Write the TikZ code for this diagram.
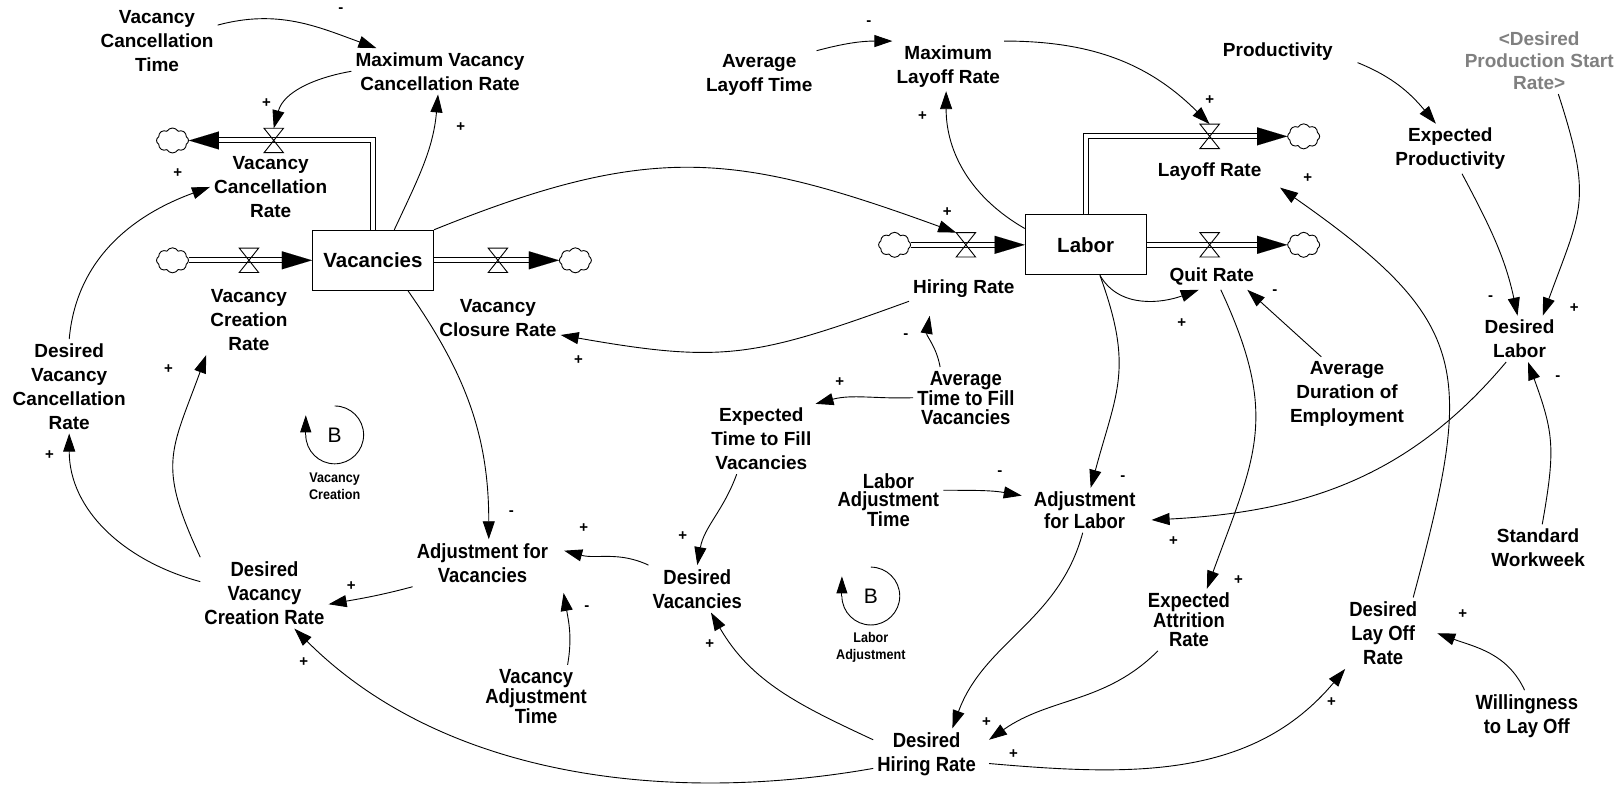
\documentclass[tikz,border=0pt]{standalone}
\usepackage{fontspec}
\setmainfont{Liberation Sans}
\newfontfamily\narrowfam{Liberation Sans}[FakeStretch=0.9]
\usetikzlibrary{arrows.meta,shapes.symbols,calc}
\newcommand\regf{\bfseries\fontsize{19}{24}\selectfont}
\newcommand\stockf{\bfseries\fontsize{20.5}{24}\selectfont}
\newcommand\grayf{\bfseries\fontsize{19}{22}\selectfont}
\newcommand\narf{\narrowfam\bfseries\fontsize{20.5}{24}\selectfont}
\newcommand\alf{\narrowfam\bfseries\fontsize{20.5}{21.5}\selectfont}
\newcommand\tightf{\narrowfam\bfseries\fontsize{20.5}{18.5}\selectfont}
\newcommand\polf{\bfseries\fontsize{15}{15}\selectfont}
\newcommand\loopf{\narrowfam\bfseries\fontsize{14}{17}\selectfont}
\newcommand\bfnt{\fontsize{21}{21}\selectfont}
\definecolor{gtext}{RGB}{128,128,128}
\begin{document}
\begin{tikzpicture}[x=1.033pt,y=1.033pt,
 lbl/.style={font=\regf,align=center,inner sep=4pt},
 glbl/.style={font=\grayf,align=center,inner sep=4pt,text=gtext},
 nlbl/.style={font=\narf,align=center,inner sep=4pt},
 albl/.style={font=\alf,align=center,inner sep=4pt},
 tlbl/.style={font=\tightf,align=center,inner sep=4pt},
 stock/.style={draw,line width=1pt,minimum width=121pt,minimum height=60pt,font=\stockf,inner sep=0},
 cloudn/.style={cloud,draw,line width=0.9pt,cloud puffs=8,cloud puff arc=120,aspect=1.3,minimum width=32pt,minimum height=25pt,inner sep=0},
 valve/.style={minimum width=19pt,minimum height=24pt,inner sep=0},
 valveline/.style={line width=0.9pt},
 pipe/.style={draw,line width=1pt,double,double distance=4pt},
 ftip/.style={draw,line width=0.01pt,-{Triangle[length=30pt,width=18pt]}},
 conn/.style={line width=0.9pt,-{Triangle[length=18pt,width=12pt]}},
 pol/.style={font=\polf,inner sep=0},
 bnode/.style={font=\bfnt,inner sep=0},
 looplbl/.style={font=\loopf,align=center,inner sep=2pt},
 loopar/.style={line width=0.9pt,-{Triangle[length=17pt,width=11pt]}},
]
\path[use as bounding box,fill=white] (0,0) rectangle (1566.3,-767.67);

% ---------- nodes ----------
\node[lbl] (vct) at (152,-40) {Vacancy\\Cancellation\\Time};
\node[lbl] (mvcr) at (426,-69) {Maximum Vacancy\\Cancellation Rate};
\node[cloudn] (cl1) at (167,-136) {};
\node[valve] (v1) at (265,-136) {};
\node[lbl] (vcar) at (262,-181) {Vacancy\\Cancellation\\Rate};
\node[stock] (vac) at (361,-252) {Vacancies};
\node[cloudn] (cl2) at (167,-252) {};
\node[valve] (v2) at (241,-252) {};
\node[lbl] (vcrr) at (241,-310) {Vacancy\\Creation\\Rate};
\node[valve] (v3) at (482,-252) {};
\node[cloudn] (cl3) at (557,-252) {};
\node[lbl] (vclr) at (482,-308) {Vacancy\\Closure Rate};
\node[stock] (labor) at (1051,-237) {Labor};
\node[cloudn] (cl4) at (866,-237) {};
\node[valve] (v4) at (935,-237) {};
\node[lbl] (hr) at (933,-279) {Hiring Rate};
\node[valve] (v5) at (1171,-132) {};
\node[cloudn] (cl5) at (1262,-132) {};
\node[lbl] (lr) at (1171,-166) {Layoff Rate};
\node[valve] (v6) at (1171,-237) {};
\node[cloudn] (cl6) at (1262,-237) {};
\node[lbl] (qr) at (1173,-268) {Quit Rate};
\node[lbl] (alt) at (735,-73) {Average\\Layoff Time};
\node[lbl] (mlr) at (918,-64) {Maximum\\Layoff Rate};
\node[lbl] (prod) at (1237,-50) {Productivity};
\node[glbl] (dpsr) at (1490,-59) {<Desired\\Production Start\\Rate>};
\node[lbl] (ep) at (1404,-144) {Expected\\Productivity};
\node[lbl] (dl) at (1471,-328) {Desired\\Labor};
\node[lbl] (ade) at (1304,-381) {Average\\Duration of\\Employment};
\node[lbl] (sw) at (1489,-530) {Standard\\Workweek};
\node[tlbl] (atfv) at (935,-385) {Average\\Time to Fill\\Vacancies};
\node[lbl] (etfv) at (737,-425) {Expected\\Time to Fill\\Vacancies};
\node[tlbl] (lat) at (860,-484) {Labor\\Adjustment\\Time};
\node[albl] (al) at (1050,-494) {Adjustment\\for Labor};
\node[nlbl] (av) at (467,-545) {Adjustment for\\Vacancies};
\node[nlbl] (dv) at (675,-570) {Desired\\Vacancies};
\node[nlbl] (dvcr) at (256,-574) {Desired\\Vacancy\\Creation Rate};
\node[lbl] (dvcar) at (67,-374) {Desired\\Vacancy\\Cancellation\\Rate};
\node[tlbl] (vat) at (519,-674) {Vacancy\\Adjustment\\Time};
\node[tlbl] (ear) at (1151,-600) {Expected\\Attrition\\Rate};
\node[nlbl] (dlor) at (1339,-613) {Desired\\Lay Off\\Rate};
\node[nlbl] (wlo) at (1478,-693) {Willingness\\to Lay Off};
\node[nlbl] (dhr) at (897,-730) {Desired\\Hiring Rate};
\node[bnode] (b1) at (324,-421) {B};
\node[looplbl] (l1) at (324,-471) {Vacancy\\Creation};
\node[bnode] (b2) at (843,-577) {B};
\node[looplbl] (l2) at (843,-627) {Labor\\Adjustment};

% ---------- flows ----------
\draw[pipe] (cl2.east) -- ([xshift=-20pt]vac.west);
\path[ftip] ([xshift=-30pt]vac.west) -- (vac.west);
\draw[pipe] (vac.east) -- ([xshift=-20pt]cl3.west);
\path[ftip] ([xshift=-30pt]cl3.west) -- (cl3.west);
\draw[pipe] (vac.north) |- ([xshift=20pt]cl1.east);
\path[ftip] ([xshift=30pt]cl1.east) -- (cl1.east);
\draw[pipe] (cl4.east) -- ([xshift=-20pt]labor.west);
\path[ftip] ([xshift=-30pt]labor.west) -- (labor.west);
\draw[pipe] (labor.east) -- ([xshift=-20pt]cl6.west);
\path[ftip] ([xshift=-30pt]cl6.west) -- (cl6.west);
\draw[pipe] (labor.north) |- ([xshift=-20pt]cl5.west);
\path[ftip] ([xshift=-30pt]cl5.west) -- (cl5.west);
\foreach \v in {v1,v2,v3,v4,v5,v6}
  \draw[valveline] (\v.north west) -- (\v.north east) -- (\v.south west) -- (\v.south east) -- cycle;

% ---------- loops ----------
\draw[line width=0.9pt] ([shift={(0,28)}]b1.center) arc[start angle=90,end angle=-180,radius=28] coordinate (b1e);
\draw[loopar] (b1e) -- ++(0,19);
\draw[line width=0.9pt] ([shift={(0,28)}]b2.center) arc[start angle=90,end angle=-180,radius=28] coordinate (b2e);
\draw[loopar] (b2e) -- ++(0,19);

% ---------- connectors ----------
\draw[conn] (vct) to[out=15,in=160] (mvcr);
\draw[conn] (mvcr.west) to[out=190,in=75] (v1.north);
\draw[conn] (vac.55) to[out=65,in=-95] (mvcr);
\draw[conn] (dvcar.north) to[out=85,in=200] (vcar.west);
\draw[conn] (dvcr.north west) to[out=115,in=-110,looseness=1.3] (vcrr.south west);
\draw[conn] (dvcr.170) to[out=165,in=-90] (dvcar.south);
\draw[conn] (vac.-41) to[out=-55,in=90] (av.75);
\draw[conn] (vac.north east) to[out=22,in=160,looseness=1.15] (v4.north west);
\draw[conn] (hr.south west) to[out=200,in=-10,looseness=1.2] (vclr.-15);
\draw[conn] (atfv.130) to[out=100,in=-100] ([shift={(-33,-14)}]hr.south);
\draw[conn] (atfv.west) to[out=182,in=15] (etfv.north east);
\draw[conn] (etfv.-125) to[out=-110,in=80] (dv.north);
\draw[conn] (dv.north west) to[out=155,in=-15] ([xshift=12pt]av.10);
\draw[conn] (av.south west) to[out=195,in=10] (dvcr.-10);
\draw[conn] (vat.45) to[out=80,in=-80] ([shift={(11,-6)}]av.south east);
\draw[conn] (dhr.-165) to[out=190,in=-45,looseness=0.9] (dvcr.-50);
\draw[conn] (dhr.165) to[out=155,in=-60] (dv.-60);
\draw[conn] (labor.-65) to[out=-60,in=200] (qr.-135);
\draw[conn] (labor.-65) to[out=-70,in=75,looseness=1.2] (al.75);
\draw[conn] (lat.10) to[out=0,in=170] ([xshift=-8pt]al.165);
\draw[conn] (dl.-120) to[out=-130,in=3] ([xshift=12pt]al.-10);
\draw[conn] (ade.125) -- (qr.-20);
\draw[conn] (qr.-55) to[out=-65,in=70,looseness=1.2] (ear.60);
\draw[conn] (al.-95) to[out=-105,in=70] (dhr.45);
\draw[conn] (ear.-135) to[out=-135,in=35] ([xshift=9pt]dhr.15);
\draw[conn] ([xshift=9pt]dhr.-10) to[out=-5,in=-130] (dlor.south west);
\draw[conn] (wlo.95) to[out=115,in=-20] ([xshift=16pt]dlor.east);
\draw[conn] (dlor.50) to[out=75,in=-35,looseness=1.4] ([shift={(14,-3)}]lr.south east);
\draw[conn] (sw.80) to[out=80,in=-70,looseness=1.2] (dl.-70);
\draw[conn] (ep.-65) to[out=-62,in=102] (dl.95);
\draw[conn] (dpsr.-60) to[out=-72,in=70,looseness=1.3] (dl.45);
\draw[conn] ([shift={(20,2)}]prod.south east) to[out=-22,in=130] (ep.120);
\draw[conn] (alt.north east) to[out=15,in=180] (mlr.north west);
\draw[conn] (mlr.north east) to[out=0,in=135] (v5.north);
\draw[conn] (labor.165) to[out=150,in=-90] (mlr.-95);

% ---------- polarities ----------
\node[pol] at (330,-10) {-};
\node[pol] at (258,-100) {+};
\node[pol] at (446,-123) {+};
\node[pol] at (172,-168) {+};
\node[pol] at (163,-357) {+};
\node[pol] at (48,-441) {+};
\node[pol] at (495,-497) {-};
\node[pol] at (917,-205) {+};
\node[pol] at (560,-349) {+};
\node[pol] at (877,-325) {-};
\node[pol] at (813,-370) {+};
\node[pol] at (661,-519) {+};
\node[pol] at (565,-511) {+};
\node[pol] at (340,-567) {+};
\node[pol] at (568,-589) {-};
\node[pol] at (294,-641) {+};
\node[pol] at (687,-624) {+};
\node[pol] at (1144,-313) {+};
\node[pol] at (1087,-463) {-};
\node[pol] at (968,-458) {-};
\node[pol] at (1136,-524) {+};
\node[pol] at (1234,-283) {-};
\node[pol] at (1199,-562) {+};
\node[pol] at (955,-699) {+};
\node[pol] at (981,-730) {+};
\node[pol] at (1289,-680) {+};
\node[pol] at (1416,-594) {+};
\node[pol] at (1266,-172) {+};
\node[pol] at (1508,-366) {-};
\node[pol] at (1443,-289) {-};
\node[pol] at (1524,-298) {+};
\node[pol] at (841,-22) {-};
\node[pol] at (1171,-97) {+};
\node[pol] at (893,-112) {+};
\end{tikzpicture}
\end{document}
